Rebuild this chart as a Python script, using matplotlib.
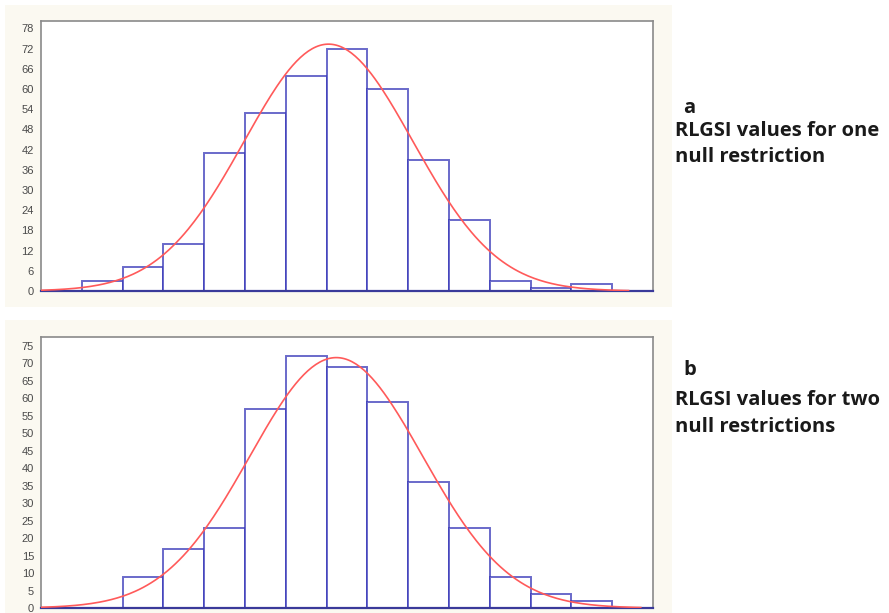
import numpy as np
import matplotlib.pyplot as plt
from matplotlib.patches import Rectangle

# histogram counts per bin (15 equal bins)
counts_a = [0, 3, 7, 14, 41, 53, 64, 72, 60, 39, 21, 3, 1, 2, 0]
counts_b = [0, 0, 9, 17, 23, 57, 72, 69, 59, 36, 23, 9, 4, 2, 0]

yticks_a = [0, 6, 12, 18, 24, 30, 36, 42, 48, 54, 60, 66, 72, 78]
yticks_b = [0, 5, 10, 15, 20, 25, 30, 35, 40, 45, 50, 55, 60, 65, 70, 75]

label_a = ["a", "RLGSI values for one", "null restriction"]
label_b = ["b", "RLGSI values for two", "null restrictions"]

W, H = 889, 613
fig = plt.figure(figsize=(W / 100, H / 100), dpi=100)
fig.patch.set_facecolor("white")

# cream panels behind each plot
for y0, y1 in [(5, 307), (320, 613)]:
    fig.patches.append(Rectangle((5 / W, 1 - y1 / H), 667 / W, (y1 - y0) / H,
                                 transform=fig.transFigure, facecolor="#fbf9f1",
                                 edgecolor="none", zorder=-5))


def normal_fit(counts, x):
    # fitted normal curve scaled to the histogram (bin width 1)
    c = np.array(counts, dtype=float)
    mids = np.arange(len(c)) + 0.5
    n = c.sum()
    mu = (c * mids).sum() / n
    sd = np.sqrt((c * (mids - mu) ** 2).sum() / n)
    return n / (sd * np.sqrt(2 * np.pi)) * np.exp(-(x - mu) ** 2 / (2 * sd ** 2))


def draw_panel(rect, counts, yticks, ytop, xend):
    ax = fig.add_axes(rect)
    ax.set_facecolor("white")
    edges = np.arange(len(counts))
    ax.bar(edges, counts, width=1, align="edge", facecolor="white",
           edgecolor=(0.22, 0.22, 0.72, 0.75), linewidth=1.4, zorder=2)
    x = np.linspace(0, xend, 300)
    ax.plot(x, normal_fit(counts, x), color="#ff5a5a", lw=1.2, zorder=3)
    ax.set_xlim(0, len(counts))
    ax.set_ylim(0, ytop)
    ax.set_xticks([])
    ax.set_yticks(yticks)
    ax.tick_params(axis="y", length=0, pad=5, labelsize=8, labelcolor="#4a4a4a")
    for lab in ax.get_yticklabels():
        lab.set_fontfamily("Liberation Sans")
    for s in ["left", "top", "right"]:
        ax.spines[s].set_color("#8a8a8a")
        ax.spines[s].set_linewidth(1.2)
    ax.spines["bottom"].set_color("#3a3a9a")
    ax.spines["bottom"].set_linewidth(1.6)
    return ax


draw_panel([41 / W, 1 - 291 / H, 612 / W, 270 / H], counts_a, yticks_a, 80.2, 14.4)
draw_panel([41 / W, 1 - 608 / H, 612 / W, 270.7 / H], counts_b, yticks_b, 77.4, 14.7)

# side captions
for lines, base in [(label_a, [113, 136, 162]), (label_b, [375, 405, 432])]:
    fig.text(683 / W, 1 - base[0] / H, lines[0], fontsize=14.5, fontweight="bold",
             family="Open Sans", va="baseline", color="#1a1a1a")
    fig.text(675 / W, 1 - base[1] / H, lines[1], fontsize=14.5, fontweight="bold",
             family="Open Sans", va="baseline", color="#1a1a1a")
    fig.text(675 / W, 1 - base[2] / H, lines[2], fontsize=14.5, fontweight="bold",
             family="Open Sans", va="baseline", color="#1a1a1a")

fig.savefig("out.png", dpi=100)
